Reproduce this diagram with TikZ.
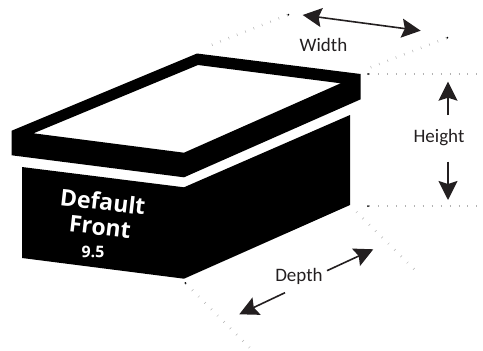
\documentclass[tikz,border=0pt]{standalone}
\usepackage{fontspec}
\setmainfont{Carlito}
\newfontfamily\facefont{Open Sans}
\usetikzlibrary{
    arrows.meta
}
\definecolor{arrowgray}{HTML}{231F20}
\tikzset{
    every picture/.style = {
        x = 1pt,
        y = -1pt
    },
    every node/.style = {
        inner sep = 0pt,
        outer sep = 2pt,
        align = center
    },
    ticks/.style = {
        draw = gray!60,
        line width = 2.5pt,
        dash pattern = on 0.5pt off 8.45pt
    },
    corner/.style = {
        fill = black,
        circle,
        minimum size = 2pt,
        inner sep = 0pt,
        outer sep = 0pt
    },
    dim/.style = {
        draw = arrowgray,
        line width = 1.6pt,
        > = {Stealth[length = 19pt, width = 19pt, inset = 3pt]}
    },
    dimlabel/.style = {
        font = \fontsize{19}{20}\selectfont,
        text = arrowgray
    },
    facelabel/.style = {
        font = \facefont\fontsize{23}{25}\selectfont\bfseries,
        text = white
    }
}

\begin{document}
\begin{tikzpicture}
    \useasboundingbox (0, 0) rectangle (483, 351);
    % box and lid
    \fill (22, 167) -- (184, 187.3) -- (350, 115) -- (350, 205) -- (184, 278.7) -- (22, 258) -- cycle;
    \fill[even odd rule] (11.7, 130.7) -- (197, 53.5) -- (360.7, 74) -- (360.7, 99.3) -- (184, 177.3) -- (11.7, 155.3) -- cycle
        (33.5, 133.3) -- (198, 65) -- (340.7, 83.3) -- (184, 152.7) -- cycle;
    % texts on the front
    \node[facelabel, rotate = -6.5] (default) at (101.5, 214) {Default\\Front};
    \node[font = \facefont\fontsize{16}{16}\selectfont\bfseries, text = white, rotate = -2] (size) at (93, 252) {9.5};
    % corners
    \node[corner] (widthl) at (288.3, 14.7) {};
    \node[corner] (widthr) at (447.3, 37.7) {};
    \node[corner] (heightt) at (368, 74) {};
    \node[corner] (heightb) at (368, 206) {};
    \node[corner] (depthl) at (185.3, 283) {};
    \coordinate (widthlend) at (210, 45.5);
    \coordinate (widthrend) at (369, 68);
    \coordinate (heighttend) at (480, 74);
    \coordinate (heightbend) at (480, 206);
    \coordinate (depthlend) at (250, 348);
    \coordinate (depthrstart) at (356.5, 212);
    \coordinate (depthrend) at (415, 270);
    \draw[ticks] (widthl) -- (widthlend);
    \draw[ticks] (widthr) -- (widthrend);
    \draw[ticks] (heightt) -- (heighttend);
    \draw[ticks] (heightb) -- (heightbend);
    \draw[ticks] (depthl) -- (depthlend);
    \draw[ticks] (depthrstart) -- (depthrend);
    % dimensions
    \node[dimlabel] (width) at (323.5, 44.5) {Width};
    \node[dimlabel] (height) at (439, 138) {Height};
    \node[dimlabel] (depth) at (299, 276) {Depth};
    \coordinate (widtha) at (302.7, 15);
    \coordinate (widthb) at (420.7, 30.7);
    \coordinate (uptail) at (448, 115);
    \coordinate (uptip) at (448, 81.7);
    \coordinate (downtail) at (448, 161.7);
    \coordinate (downtip) at (448, 200);
    \coordinate (righttail) at (327, 270.7);
    \coordinate (righttip) at (373.3, 249.3);
    \coordinate (lefttail) at (285, 292.7);
    \coordinate (lefttip) at (239.3, 314.3);
    \draw[dim, <->] (widtha) -- (widthb);
    \draw[dim, ->] (uptail) -- (uptip);
    \draw[dim, ->] (downtail) -- (downtip);
    \draw[dim, ->] (righttail) -- (righttip);
    \draw[dim, ->] (lefttail) -- (lefttip);
\end{tikzpicture}
\end{document}
